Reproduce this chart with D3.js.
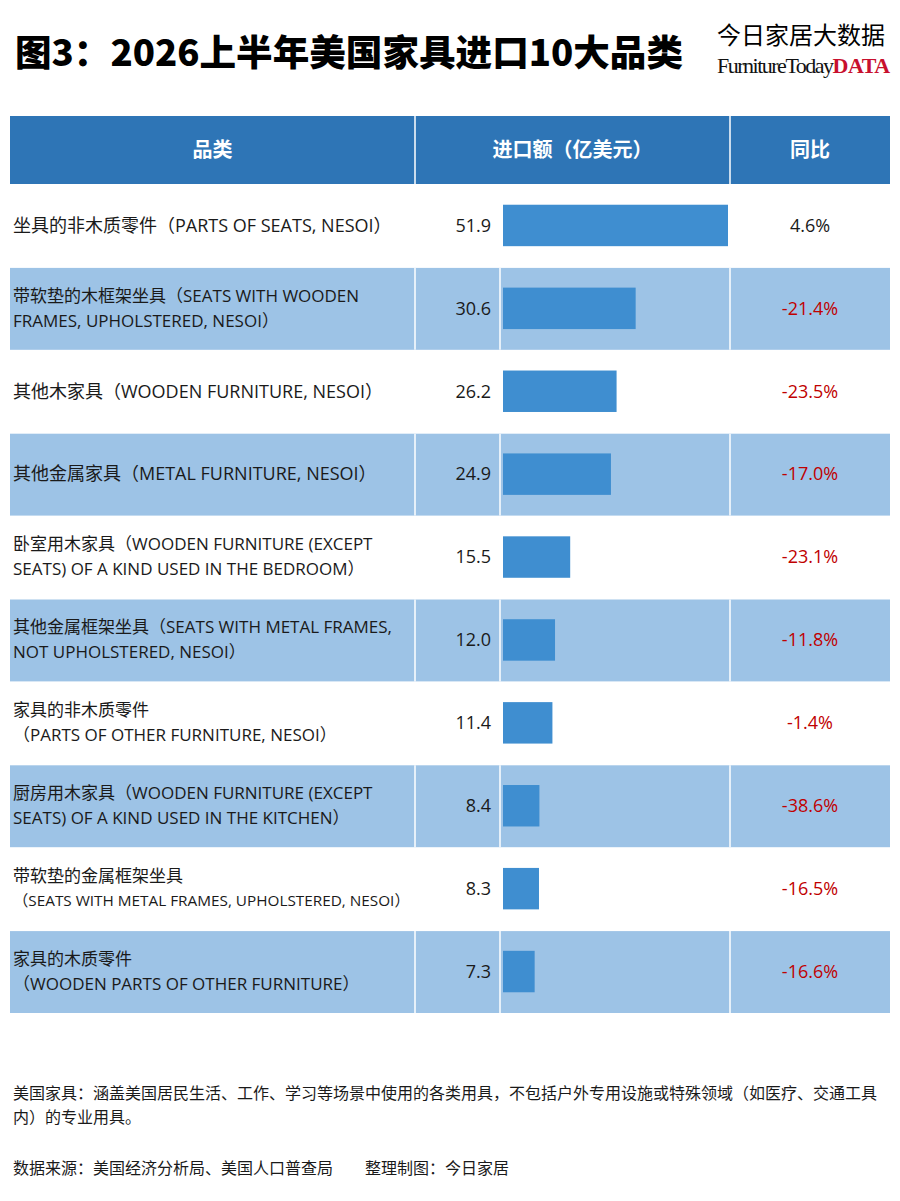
<!DOCTYPE html>
<html>
<head>
<meta charset="utf-8">
<script src="https://cdn.jsdelivr.net/npm/d3@7"></script>
<style>
  body { margin: 0; background: #fff; }
  svg text { font-family: "Open Sans", "Noto Sans CJK SC", sans-serif; }
</style>
</head>
<body>
<div id="chart"></div>
<script>
// 品类（每行一个数组元素，长名称分两行）
const categories = [
  ["坐具的非木质零件（PARTS OF SEATS, NESOI）"],
  ["带软垫的木框架坐具（SEATS WITH WOODEN", "FRAMES, UPHOLSTERED, NESOI）"],
  ["其他木家具（WOODEN FURNITURE, NESOI）"],
  ["其他金属家具（METAL FURNITURE, NESOI）"],
  ["卧室用木家具（WOODEN FURNITURE (EXCEPT", "SEATS) OF A KIND USED IN THE BEDROOM）"],
  ["其他金属框架坐具（SEATS WITH METAL FRAMES,", "NOT UPHOLSTERED, NESOI）"],
  ["家具的非木质零件", "（PARTS OF OTHER FURNITURE, NESOI）"],
  ["厨房用木家具（WOODEN FURNITURE (EXCEPT", "SEATS) OF A KIND USED IN THE KITCHEN）"],
  ["带软垫的金属框架坐具", "（SEATS WITH METAL FRAMES, UPHOLSTERED, NESOI）"],
  ["家具的木质零件", "（WOODEN PARTS OF OTHER FURNITURE）"]
];
// 进口额（亿美元）
const values = [51.9, 30.6, 26.2, 24.9, 15.5, 12.0, 11.4, 8.4, 8.3, 7.3];
// 同比（%）
const yoy = [4.6, -21.4, -23.5, -17.0, -23.1, -11.8, -1.4, -38.6, -16.5, -16.6];
const headers = ["品类", "进口额（亿美元）", "同比"];

const W = 900, H = 1201;
const LEFT = 10, RIGHT = 890;
const COL1 = 415, COL2 = 500, COL3 = 730;
const HEAD_TOP = 116, HEAD_BOT = 184, TABLE_BOT = 1013;

const svg = d3.select("#chart").append("svg")
  .attr("width", W).attr("height", H);

// 标题
svg.append("text")
  .attr("x", 15).attr("y", 66)
  .style("font-family", "'Noto Sans CJK SC', sans-serif")
  .style("font-weight", 900)
  .style("font-size", "36.6px")
  .attr("fill", "#000")
  .text("图3：2026上半年美国家具进口10大品类");

// 右上角标识
svg.append("text")
  .attr("x", 801).attr("y", 44)
  .attr("text-anchor", "middle")
  .style("font-family", "'Noto Sans CJK SC', sans-serif")
  .style("font-size", "24px")
  .attr("fill", "#000")
  .text("今日家居大数据");
const logo = svg.append("text")
  .attr("x", 717).attr("y", 73)
  .style("font-family", "'Liberation Serif', serif")
  .style("font-size", "22px")
  .style("letter-spacing", "-1.5px");
logo.append("tspan").attr("fill", "#111").text("FurnitureToday");
logo.append("tspan").attr("fill", "#C8102E").style("font-weight", "bold").style("letter-spacing", "-0.5px").text("DATA");

// 表头
svg.append("rect")
  .attr("x", LEFT).attr("y", HEAD_TOP)
  .attr("width", RIGHT - LEFT).attr("height", HEAD_BOT - HEAD_TOP)
  .attr("fill", "#2E75B6");
[COL1, COL3].forEach(x => {
  svg.append("line")
    .attr("x1", x).attr("x2", x).attr("y1", HEAD_TOP).attr("y2", HEAD_BOT)
    .attr("stroke", "#fff").attr("stroke-width", 1.5);
});
const headCenters = [(LEFT + COL1) / 2, (COL1 + COL3) / 2, (COL3 + RIGHT) / 2];
headers.forEach((h, i) => {
  svg.append("text")
    .attr("x", headCenters[i]).attr("y", (HEAD_TOP + HEAD_BOT) / 2)
    .attr("dy", "0.35em")
    .attr("text-anchor", "middle")
    .style("font-family", "'Noto Sans CJK SC', sans-serif")
    .style("font-weight", "bold")
    .style("font-size", "20px")
    .attr("fill", "#fff")
    .text(h);
});

// 比例尺
const y = d3.scaleBand()
  .domain(d3.range(values.length))
  .range([HEAD_BOT, TABLE_BOT])
  .paddingInner(0);
const x = d3.scaleLinear()
  .domain([0, d3.max(values)])
  .range([COL2 + 3, COL3 - 2]);

const rows = svg.selectAll("g.row")
  .data(values.map((v, i) => ({ v, i, label: categories[i], yoy: yoy[i] })))
  .enter().append("g")
  .attr("class", "row")
  .attr("transform", d => `translate(0,${y(d.i)})`);

// 隔行底色
rows.filter(d => d.i % 2 === 1)
  .append("rect")
  .attr("x", LEFT).attr("y", 1)
  .attr("width", RIGHT - LEFT).attr("height", y.bandwidth() - 1)
  .attr("fill", "#9DC3E6");
rows.filter(d => d.i % 2 === 1).each(function () {
  const g = d3.select(this);
  [COL1, COL2, COL3].forEach(cx => {
    g.append("line")
      .attr("x1", cx).attr("x2", cx).attr("y1", 1).attr("y2", y.bandwidth())
      .attr("stroke", "#fff").attr("stroke-width", 1.5);
  });
});

// 条形
const barH = y.bandwidth() * 0.5;
rows.append("rect")
  .attr("x", x(0))
  .attr("y", (y.bandwidth() - barH) / 2)
  .attr("width", d => x(d.v) - x(0))
  .attr("height", barH)
  .attr("fill", "#3F8ED0");

// 数值
rows.append("text")
  .attr("x", COL2 - 9)
  .attr("y", y.bandwidth() / 2)
  .attr("dy", "0.35em")
  .attr("text-anchor", "end")
  .style("font-size", "18px")
  .attr("fill", "#1a1a1a")
  .text(d => d.v.toFixed(1));

// 同比
rows.append("text")
  .attr("x", (COL3 + RIGHT) / 2)
  .attr("y", y.bandwidth() / 2)
  .attr("dy", "0.35em")
  .attr("text-anchor", "middle")
  .style("font-size", "18px")
  .attr("fill", d => d.yoy < 0 ? "#C00000" : "#1a1a1a")
  .text(d => d.yoy.toFixed(1) + "%");

// 品类名称
const lineGap = 25;
rows.each(function (d) {
  const g = d3.select(this);
  const n = d.label.length;
  const fs = n === 1 ? 18 : 17;
  d.label.forEach((t, k) => {
    const txt = g.append("text")
      .attr("x", 13)
      .attr("y", y.bandwidth() / 2 + (k - (n - 1) / 2) * lineGap)
      .attr("dy", "0.35em")
      .style("font-size", fs + "px")
      .attr("fill", "#1a1a1a")
      .text(t);
    // 过长时缩小字号
    const maxW = COL1 - 18;
    const len = txt.node().getComputedTextLength();
    if (len > maxW) txt.style("font-size", (fs * maxW / len).toFixed(2) + "px");
  });
});

// 脚注
const notes = [
  "美国家具：涵盖美国居民生活、工作、学习等场景中使用的各类用具，不包括户外专用设施或特殊领域（如医疗、交通工具",
  "内）的专业用具。"
];
const noteStyle = sel => sel
  .style("font-family", "'Noto Sans CJK SC', sans-serif")
  .style("font-size", "16px")
  .attr("fill", "#1a1a1a");
notes.forEach((t, k) => {
  svg.append("text")
    .attr("x", 13).attr("y", 1099 + k * 24)
    .call(noteStyle)
    .text(t);
});
svg.append("text")
  .attr("x", 13).attr("y", 1174)
  .call(noteStyle)
  .text("数据来源：美国经济分析局、美国人口普查局");
svg.append("text")
  .attr("x", 365).attr("y", 1174)
  .call(noteStyle)
  .text("整理制图：今日家居");
</script>
</body>
</html>
